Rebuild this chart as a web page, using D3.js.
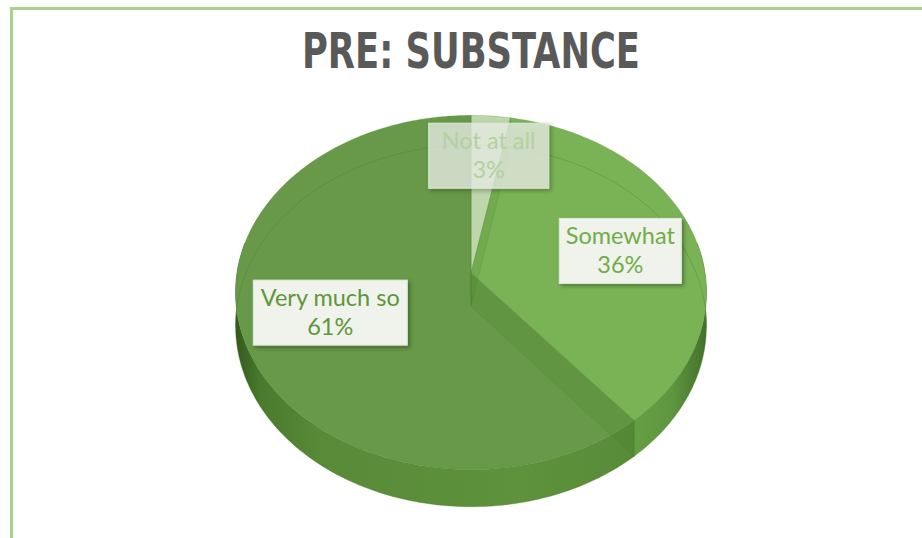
<!DOCTYPE html>
<html><head><meta charset="utf-8">
<script src="https://cdn.jsdelivr.net/npm/d3@7"></script>
<style>body{margin:0;background:#fff;overflow:hidden}</style>
</head><body><svg id="c" width="922" height="538"></svg>
<script>
// ---- data ----
const chartTitle = "PRE: SUBSTANCE";
const categories = ["Not at all", "Somewhat", "Very much so"];
const values = [3, 36, 61];
const percentLabels = ["3%", "36%", "61%"];

// ---- styles / layout ----
const topColors = ["#bdd7ab", "#7ab356", "#679948"];
const textColors = ["#b3d19f", "#70ad47", "#5e9639"];
const labelRadius = [0.72, 0.68, 0.62];
const labelShift = [[3, -1], [-2, 7], [-1, 2]];
const boxOpacity = [0.72, 1, 1];
const CX = 471, CY = 273, A = 234, B = 175, P = 0.11, D = 33;

const svg = d3.select("#c");
const defs = svg.append("defs");

function grad(id, stops) {
  const g = defs.append("linearGradient").attr("id", id)
    .attr("gradientUnits", "userSpaceOnUse")
    .attr("x1", CX - A).attr("x2", CX + A).attr("y1", 0).attr("y2", 0);
  stops.forEach(s => g.append("stop").attr("offset", s[0]).attr("stop-color", s[1]));
}
grad("sideDark", [[0, "#345b1f"], [0.05, "#4a7a2d"], [0.18, "#588a37"], [0.6, "#5f923d"], [0.9, "#578a36"], [1, "#3e6a27"]]);
grad("sideLight", [[0, "#4a7a2d"], [0.6, "#6ea84a"], [0.8, "#6aa346"], [0.93, "#5f9640"], [1, "#44722b"]]);
const sideFill = ["url(#sideLight)", "url(#sideLight)", "url(#sideDark)"];

const f = defs.append("filter").attr("id", "sh").attr("x", "-20%").attr("y", "-20%").attr("width", "150%").attr("height", "160%");
f.append("feDropShadow").attr("dx", 2).attr("dy", 2).attr("stdDeviation", 2.2)
  .attr("flood-color", "#000").attr("flood-opacity", 0.35);

// frame
svg.append("path").attr("d", "M11.5,540 L11.5,8.5 L924,8.5")
  .attr("fill", "none").attr("stroke", "#a9d18e").attr("stroke-width", 3);

// title
svg.append("text").attr("x", 471).attr("y", 68).attr("text-anchor", "middle")
  .attr("font-family", "'Liberation Sans Narrow','DejaVu Sans Condensed','Open Sans',sans-serif")
  .attr("font-weight", "bold").attr("font-size", 49).attr("fill", "#595959")
  .attr("textLength", 338).attr("lengthAdjust", "spacingAndGlyphs")
  .text(chartTitle);

function proj(theta, r, h) {
  const u = r * Math.sin(theta), v = -r * Math.cos(theta);
  const s = 1 / (1 - P * v);
  return [CX + A * u * s, CY + (B * v + D * h) * s];
}
function arcPts(a0, a1, h) {
  const n = Math.max(2, Math.ceil(Math.abs(a1 - a0) / (Math.PI / 180)));
  return d3.range(n + 1).map(i => proj(a0 + (a1 - a0) * i / n, 1, h));
}
const line = d3.line();
const pie = d3.pie().sort(null).value(d => d)(values);

const sLo = Math.PI * 80 / 180, sHi = Math.PI * 280 / 180;
const g = svg.append("g");
pie.forEach((d, i) => {
  const t0 = Math.max(d.startAngle, sLo), t1 = Math.min(d.endAngle, sHi);
  if (t1 <= t0) return;
  const pts = arcPts(t0, t1, 0).concat(arcPts(t1, t0, 1));
  g.append("path").attr("d", line(pts) + "Z")
    .attr("fill", sideFill[i]).attr("stroke", "#4d7d30").attr("stroke-opacity", 0.5).attr("stroke-width", 0.8);
});

pie.forEach((d, i) => {
  const pts = [proj(0, 0, 0)].concat(arcPts(d.startAngle, d.endAngle, 0));
  g.append("path").attr("d", line(pts) + "Z")
    .attr("fill", topColors[i]).attr("stroke", "#5b8d3a").attr("stroke-opacity", 0.35).attr("stroke-width", 0.8);
});

pie.forEach((d, i) => {
  const a = d.endAngle;
  const pts = [proj(a, 0, 0), proj(a, 1, 0), proj(a, 1, 1), proj(a, 0, 1)];
  g.append("path").attr("d", line(pts) + "Z")
    .attr("fill", "#3f7a1f").attr("fill-opacity", 0.13)
    .attr("stroke", "#4d7d30").attr("stroke-opacity", 0.25).attr("stroke-width", 0.8);
});

g.append("path").attr("d", line(arcPts(-Math.PI * 97 / 180, Math.PI * 97 / 180, 1)))
  .attr("fill", "none").attr("stroke", "#4a7a2c").attr("stroke-opacity", 0.35).attr("stroke-width", 1);

const boxW = [120, 122, 154], boxH = 65;
pie.forEach((d, i) => {
  const mid = (d.startAngle + d.endAngle) / 2;
  let [x, y] = proj(mid, labelRadius[i], 0);
  x += labelShift[i][0]; y += labelShift[i][1];
  const lg = svg.append("g");
  lg.append("rect").attr("x", x - boxW[i] / 2).attr("y", y - boxH / 2)
    .attr("width", boxW[i]).attr("height", boxH)
    .attr("fill", "#eff3ec").attr("fill-opacity", boxOpacity[i])
    .attr("stroke", "#dfe8d8").attr("stroke-width", 1)
    .attr("filter", "url(#sh)");
  const t = lg.append("text").attr("text-anchor", "middle")
    .attr("font-family", "Lato, 'Open Sans', sans-serif").attr("font-size", 23.5)
    .attr("fill", textColors[i]);
  t.append("tspan").attr("x", x).attr("y", y - 7).text(categories[i]);
  t.append("tspan").attr("x", x).attr("y", y + 22).text(percentLabels[i]);
});
</script></body></html>
